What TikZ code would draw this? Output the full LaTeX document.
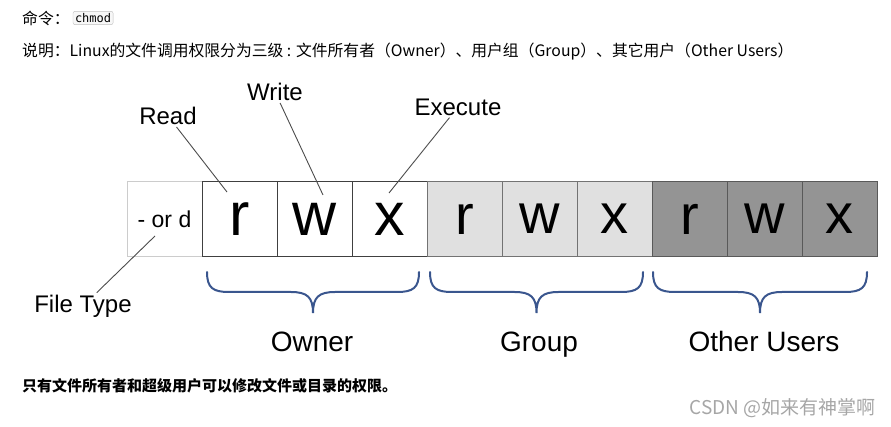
\documentclass[tikz,border=0pt]{standalone}
\usepackage{fontspec}
\setmainfont{Liberation Sans}
\newfontfamily\cjk{Noto Sans CJK SC}
\newfontfamily\codefont{DejaVu Sans Mono}
\usepackage{tikz}
\usetikzlibrary{positioning}

\begin{document}
\begin{tikzpicture}[x=1pt, y=-1pt, node distance=75pt]
    \tikzstyle{permbox} = [rectangle, minimum width=75pt, minimum height=75pt, inner sep=0pt, font=\fontsize{56}{56}\selectfont]
    \tikzstyle{filebox} = [permbox, draw=black!20, fill=white, font=\fontsize{23}{23}\selectfont]
    \tikzstyle{ownerbox} = [permbox, draw=black!75, fill=white, font=\fontsize{61}{61}\selectfont]
    \tikzstyle{groupbox} = [permbox, draw=black!55, fill=black!12]
    \tikzstyle{otherbox} = [permbox, draw=black!65, fill=black!42]
    \tikzstyle{tag} = [inner sep=2pt, font=\fontsize{24}{24}\selectfont]
    \tikzstyle{grouptag} = [anchor=base, inner sep=0pt, font=\fontsize{28}{28}\selectfont]
    \tikzstyle{leader} = [draw=black!70, line width=0.9pt]
    \tikzstyle{ubrace} = [draw={rgb,255:red,58;green,86;blue,142}, line width=2pt, line cap=round]
    \tikzstyle{note} = [anchor=west, inner sep=0pt, font=\cjk\fontsize{15.8}{15.8}\selectfont]

    \useasboundingbox (0,0) rectangle (891,427);

    % header
    \node [note] (cmd) at (22,18) {命令：};
    \node [right=3pt of cmd, draw=black!25, fill=black!3, rounded corners=2pt, inner sep=2pt, font=\codefont\fontsize{12}{12}\selectfont] (chmod) {chmod};
    \node [note] (desc) at (22,52) {说明：Linux的文件调用权限分为三级 : 文件所有者（Owner）、用户组（Group）、其它用户（Other Users）};

    % permission string
    \node [filebox] (ftype) at (164.5,219) {- or d};
    \node [ownerbox, right of=ftype] (ur) {r};
    \node [ownerbox, right of=ur] (uw) {w};
    \node [ownerbox, right of=uw] (ux) {x};
    \node [groupbox, right of=ux] (gr) {r};
    \node [groupbox, right of=gr] (gw) {w};
    \node [groupbox, right of=gw] (gx) {x};
    \node [otherbox, right of=gx] (or) {r};
    \node [otherbox, right of=or] (ow) {w};
    \node [otherbox, right of=ow] (ox) {x};

    % labels and leaders
    \node [tag] (read) at (168,116) {Read};
    \node [tag] (write) at (275,92) {Write};
    \node [tag] (exec) at (458,107) {Execute};
    \node [tag] (ftag) at (83,306) {File Type};
    \coordinate (rtip) at (227,192);
    \coordinate (wtip) at (323,195);
    \coordinate (xtip) at (389,193);
    \coordinate (ftip) at (155,236);
    \draw [leader] (read) -- (rtip);
    \draw [leader] (write) -- (wtip);
    \draw [leader] (exec) -- (xtip);
    \draw [leader] (ftag) -- (ftip);

    % braces
    \foreach \a/\b in {207/419, 430/643, 653/867} {
        \pgfmathsetmacro{\m}{(\a+\b)/2}
        \draw [ubrace] (\a,272) .. controls (\a,288) and (\a+6,292) .. (\a+22,292)
            -- (\m-22,292) .. controls (\m-6,292) and (\m,297) .. (\m,313)
            .. controls (\m,297) and (\m+6,292) .. (\m+22,292)
            -- (\b-22,292) .. controls (\b-6,292) and (\b,288) .. (\b,272);
    }
    \node [grouptag] (owner) at (312,352) {Owner};
    \node [grouptag] (group) at (539,352) {Group};
    \node [grouptag] (others) at (764,352) {Other Users};

    % footer
    \node [note, font=\cjk\bfseries\fontsize{15}{15}\selectfont] (only) at (22,386) {只有文件所有者和超级用户可以修改文件或目录的权限。};
    \node [anchor=east, inner sep=0pt, text=black!35, font=\cjk\fontsize{19}{19}\selectfont] (mark) at (876,408) {CSDN @如来有神掌啊};
\end{tikzpicture}
\end{document}
